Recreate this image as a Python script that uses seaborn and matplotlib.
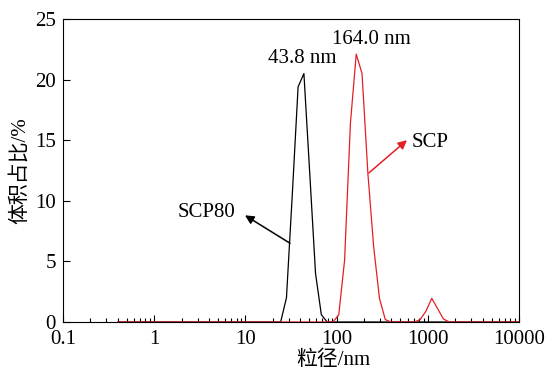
import numpy as np
import pandas as pd
import matplotlib
matplotlib.use('Agg')
import matplotlib.pyplot as plt
import matplotlib.ticker as mticker
import seaborn as sns

# Classes granulométriques (nm), 70 bins
taille_nm = [0.4, 0.4632, 0.5365, 0.6213, 0.7195, 0.8332, 0.9649, 1.117, 1.294, 1.499,
             1.736, 2.010, 2.328, 2.696, 3.122, 3.615, 4.187, 4.849, 5.615, 6.503,
             7.531, 8.721, 10.10, 11.70, 13.54, 15.69, 18.17, 21.04, 24.36, 28.21,
             32.67, 37.84, 43.82, 50.75, 58.77, 68.06, 78.82, 91.28, 105.7, 122.4,
             141.8, 164.2, 190.1, 220.2, 255.0, 295.3, 342.0, 396.1, 458.7, 531.2,
             615.1, 712.4, 825.0, 955.4, 1106, 1281, 1484, 1718, 1990, 2305,
             2669, 3091, 3580, 4145, 4801, 5560, 6439, 7456, 8635, 10000]

# Volume (%) pour SCP80
vol_scp80 = [0, 0, 0, 0, 0, 0, 0, 0, 0, 0,
             0, 0, 0, 0, 0, 0, 0, 0, 0, 0,
             0, 0, 0, 0, 0, 0, 0, 0, 0, 2.0,
             10.5, 19.4, 20.5, 12.3, 4.0, 0.6, 0, 0, 0, 0,
             0, 0, 0, 0, 0, 0, 0, 0, 0, 0,
             0, 0, 0, 0, 0, 0, 0, 0, 0, 0,
             0, 0, 0, 0, 0, 0, 0, 0, 0, 0]

# Volume (%) pour SCP
vol_scp = [0, 0, 0, 0, 0, 0, 0, 0, 0, 0,
           0, 0, 0, 0, 0, 0, 0, 0, 0, 0,
           0, 0, 0, 0, 0, 0, 0, 0, 0, 0,
           0, 0, 0, 0, 0, 0, 0, 0, 0.6, 5.1,
           16.4, 22.1, 20.5, 12.3, 6.2, 1.95, 0.2, 0, 0, 0,
           0, 0, 0.2, 0.9, 1.95, 1.1, 0.25, 0, 0, 0,
           0, 0, 0, 0, 0, 0, 0, 0, 0, 0]

ticks_x = [0.1, 1, 10, 100, 1000, 10000]
labels_x = ['0.1', '1', '10', '100', '1000', '10000']
ticks_y = [0, 5, 10, 15, 20, 25]

rouge = '#e41e26'

sns.set_style('ticks')
plt.rcParams['font.family'] = ['Liberation Serif', 'Noto Sans CJK SC']
plt.rcParams['font.size'] = 15
plt.rcParams['text.color'] = 'black'
plt.rcParams['axes.labelcolor'] = 'black'
plt.rcParams['xtick.color'] = 'black'
plt.rcParams['ytick.color'] = 'black'

df = pd.DataFrame({'taille': taille_nm, 'SCP80': vol_scp80, 'SCP': vol_scp})

fig = plt.figure(figsize=(5.52, 3.71), dpi=100)
ax = fig.add_axes([0.1141, 0.1321, 0.8261, 0.8167])

sns.lineplot(data=df, x='taille', y='SCP80', color='black', lw=0.9, ax=ax)
sns.lineplot(data=df, x='taille', y='SCP', color=rouge, lw=0.9, ax=ax)

ax.set_xscale('log')
ax.set_xlim(0.1, 10000)
ax.set_ylim(0, 25)
ax.xaxis.set_major_locator(mticker.FixedLocator(ticks_x))
ax.xaxis.set_major_formatter(mticker.FixedFormatter(labels_x))
ax.xaxis.set_minor_locator(mticker.LogLocator(base=10, subs=np.arange(2, 10)))
ax.xaxis.set_minor_formatter(mticker.NullFormatter())
ax.set_yticks(ticks_y)

ax.tick_params(which='both', direction='in', top=False, right=False, colors='black',
               labelcolor='black')
ax.tick_params(which='major', length=5, width=0.8, labelsize=15)
ax.tick_params(axis='x', which='major', pad=6)
ax.tick_params(axis='y', which='major', pad=5)
ax.tick_params(which='minor', length=3, width=0.8)
for s in ax.spines.values():
    s.set_linewidth(0.8)
    s.set_color('black')

ax.set_xlabel('粒径/nm', fontsize=15, labelpad=2, color='black')
ax.xaxis.set_label_coords(0.592, -0.095)
ax.set_ylabel('体积占比/%', fontsize=15, labelpad=4, color='black')

# Annotations
ax.text(41.8, 21.7, '43.8 nm', ha='center', va='center', fontsize=15, color='black')
ax.text(238, 23.3, '164.0 nm', ha='center', va='center', fontsize=15, color='black')
ax.text(3.7, 9.0, 'SCP80', ha='center', va='center', fontsize=15, color='black')
ax.text(1057, 14.85, 'SCP', ha='center', va='center', fontsize=15, color='black')

ax.annotate('', xy=(9.9, 8.8), xytext=(30.8, 6.5),
            arrowprops=dict(arrowstyle='-|>', color='black', lw=1.1, mutation_scale=13,
                            shrinkA=0, shrinkB=0))
ax.annotate('', xy=(591, 15.0), xytext=(226, 12.3),
            arrowprops=dict(arrowstyle='-|>', color=rouge, lw=1.1, mutation_scale=13,
                            shrinkA=0, shrinkB=0))

fig.savefig('out.png', dpi=100)
